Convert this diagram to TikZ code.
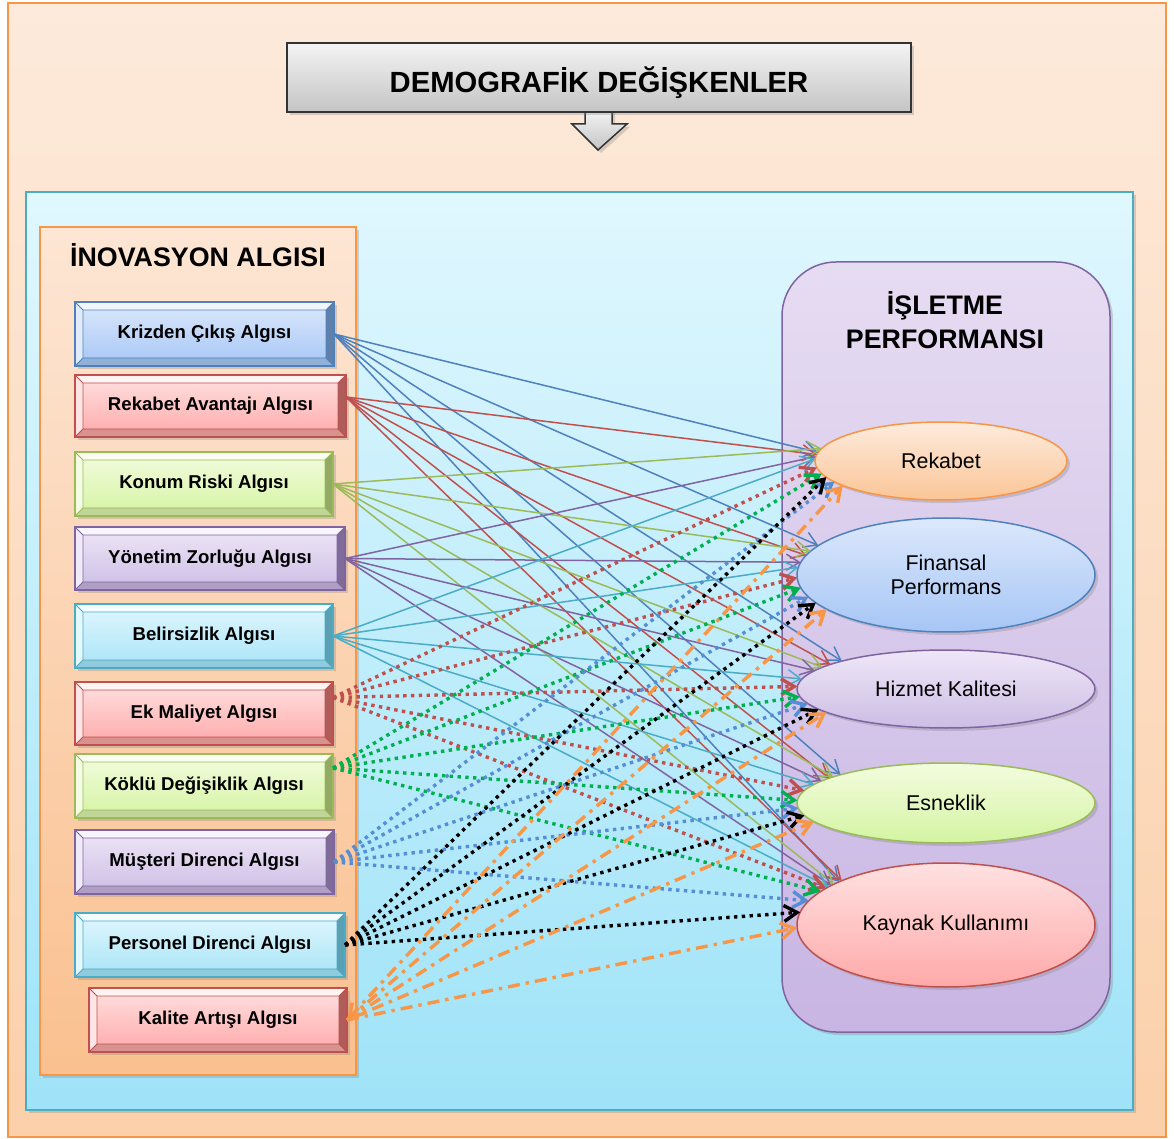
\documentclass[tikz,border=0pt]{standalone}
\usepackage{fontspec}
\setmainfont{Liberation Sans}
\usetikzlibrary{arrows.meta,shapes.geometric,shadows,calc}

% palette: border / gradient top / gradient bottom
\definecolor{blubd}{HTML}{4F81BD}\definecolor{blutop}{HTML}{DCE8FB}\definecolor{blubot}{HTML}{A6C6F6}
\definecolor{redbd}{HTML}{C0504D}\definecolor{redtop}{HTML}{FFE1E1}\definecolor{redbot}{HTML}{FFA9A9}
\definecolor{grnbd}{HTML}{9BBB59}\definecolor{grntop}{HTML}{F3FCDF}\definecolor{grnbot}{HTML}{D4F4A2}
\definecolor{purbd}{HTML}{8064A2}\definecolor{purtop}{HTML}{EEE7F7}\definecolor{purbot}{HTML}{CCBDE5}
\definecolor{aqubd}{HTML}{4BACC6}\definecolor{aqutop}{HTML}{E1F7FE}\definecolor{aqubot}{HTML}{A8E4F7}
\definecolor{orgbd}{HTML}{F79646}\definecolor{orgtop}{HTML}{FDEBDD}\definecolor{orgbot}{HTML}{FBC597}
\definecolor{outtop}{HTML}{FDEADB}\definecolor{outbot}{HTML}{FBD0AA}
\definecolor{lefttop}{HTML}{FDE6D4}\definecolor{leftbot}{HTML}{FAC08F}
\definecolor{midtop}{HTML}{E0F7FE}\definecolor{midbot}{HTML}{9FE3F8}
\definecolor{perftop}{HTML}{E6DCF2}\definecolor{perfbot}{HTML}{C8B5E3}
\definecolor{hdrtop}{HTML}{F4F4F4}\definecolor{hdrbot}{HTML}{C4C4C4}\definecolor{hdrbd}{HTML}{333333}
\definecolor{dotblue}{HTML}{558ED5}\definecolor{dotgreen}{HTML}{00B050}

% bevelled frame around a rectangular node
\newcommand\bevel[2]{%
  \fill[#2top!40!white] (#1.north west) -- (#1.north east) -- ([shift={(-4pt,-4pt)}]#1.north east) -- ([shift={(4pt,-4pt)}]#1.north west) -- cycle;
  \fill[#2top!85!white] (#1.north west) -- ([shift={(4pt,-4pt)}]#1.north west) -- ([shift={(4pt,4pt)}]#1.south west) -- (#1.south west) -- cycle;
  \fill[#2bd!62!white] (#1.south west) -- ([shift={(4pt,4pt)}]#1.south west) -- ([shift={(-4pt,4pt)}]#1.south east) -- (#1.south east) -- cycle;
  \fill[#2bd!72!gray] (#1.south east) -- ([shift={(-4pt,4pt)}]#1.south east) -- ([shift={(-4pt,-4pt)}]#1.north east) -- (#1.north east) -- cycle;
  \draw[#2bd, line width=0.4pt] ([shift={(4pt,-4pt)}]#1.north west) rectangle ([shift={(-4pt,4pt)}]#1.south east)
    (#1.north west) -- ([shift={(4pt,-4pt)}]#1.north west)
    (#1.north east) -- ([shift={(-4pt,-4pt)}]#1.north east)
    (#1.south west) -- ([shift={(4pt,4pt)}]#1.south west)
    (#1.south east) -- ([shift={(-4pt,4pt)}]#1.south east);
  \draw[#2bd, line width=1pt] (#1.north west) rectangle (#1.south east);
}
% perception box: name, x1, y1, x2, y2, palette, label
\newcommand\percbox[7]{%
  \node[lbox=#6, minimum width={(#4-#2)*0.5pt}, minimum height={(#5-#3)*0.5pt}]
    (#1) at ({(#2+#4)/2},{(#3+#5)/2}) {#7};
  \bevel{#1}{#6}%
}
% arrows from one source to the five performance ellipses
\newcommand\fan[7]{%
  \draw[#2] (#1) -- (rek.#3);
  \draw[#2] (#1) -- (fin.#4);
  \draw[#2] (#1) -- (hiz.#5);
  \draw[#2] (#1) -- (esn.#6);
  \draw[#2] (#1) -- (kay.#7);
}

\begin{document}
\begin{tikzpicture}[x=0.5pt,y=-0.5pt,
  shad/.style={drop shadow={shadow xshift=1.5pt,shadow yshift=-1.5pt,opacity=0.3}},
  lbox/.style={draw=#1bd, line width=1pt, top color=#1top, bottom color=#1bot,
    inner sep=0pt, outer sep=0pt, shad, font=\bfseries\fontsize{9.3}{11}\selectfont},
  ell/.style={ellipse, draw=#1bd, line width=0.75pt, top color=#1top, bottom color=#1bot,
    inner sep=0pt, outer sep=0pt, shad, align=center, font=\fontsize{10.7}{12}\selectfont},
  tip/.style={-{Straight Barb[length=6.5pt,width=8pt]}},
  sol/.style={draw=#1, line width=0.75pt, tip},
  dots/.style={draw=#1, line width=1.7pt, dash pattern=on 1.7pt off 2.2pt, tip},
  dashdot/.style={draw=orgbd, line width=1.7pt, dash pattern=on 6pt off 3pt on 1.7pt off 3pt, tip},
  title/.style={font=\bfseries\fontsize{13.4}{17}\selectfont, align=center}]
\useasboundingbox (0,0) rectangle (1174,1139);

% outer frame
\draw[draw=orgbd, line width=0.75pt, top color=outtop, bottom color=outbot] (8,3) rectangle (1166,1137);

% header with downward arrow
\draw[draw=hdrbd, line width=0.75pt, top color=hdrtop, bottom color=hdrbot, shad]
  (585,110) -- (612,110) -- (612,124) -- (627,124) -- (598,150) -- (572,124) -- (585,124) -- cycle;
\node[draw=hdrbd, line width=0.9pt, top color=hdrtop, bottom color=hdrbot, shad,
  minimum width=312pt, minimum height=34.5pt, inner sep=0pt, text height=14.9pt, text depth=0pt,
  font=\bfseries\fontsize{14.6}{17}\selectfont] (demo) at (599,77.5) {DEMOGRAFİK DEĞİŞKENLER};

% main area
\draw[draw=aqubd, line width=0.75pt, top color=midtop, bottom color=midbot, shad] (26,192) rectangle (1133,1110);

% innovation perception column
\draw[draw=orgbd, line width=0.75pt, top color=lefttop, bottom color=leftbot, shad] (40,227) rectangle (356,1075);
\node[title] (inov) at (198,255) {İNOVASYON ALGISI};

\percbox{kriz}{75}{302}{334}{366}{blu}{Krizden Çıkış Algısı}
\percbox{rav}{75}{375}{346}{437}{red}{Rekabet Avantajı Algısı}
\percbox{kon}{75}{452}{333}{516}{grn}{Konum Riski Algısı}
\percbox{yon}{75}{527}{345}{590}{pur}{Yönetim Zorluğu Algısı}
\percbox{bel}{75}{604}{333}{668}{aqu}{Belirsizlik Algısı}
\percbox{ek}{75}{682}{333}{745}{red}{Ek Maliyet Algısı}
\percbox{kok}{75}{754}{333}{818}{grn}{Köklü Değişiklik Algısı}
\percbox{mus}{75}{830}{334}{894}{pur}{Müşteri Direnci Algısı}
\percbox{per}{75}{913}{345}{977}{aqu}{Personel Direnci Algısı}
\percbox{kal}{89}{988}{347}{1052}{red}{Kalite Artışı Algısı}

% business performance column
\draw[draw=purbd, line width=0.75pt, top color=perftop, bottom color=perfbot, rounded corners=27pt, shad]
  (782,262) rectangle (1110,1032);
\node[title] (perf) at (945,320) {İŞLETME\\PERFORMANSI};

\node[ell=org, minimum width=126pt, minimum height=39pt] (rek) at (941,461) {Rekabet};
\node[ell=blu, minimum width=149pt, minimum height=57pt] (fin) at (946,575) {Finansal\\Performans};
\node[ell=pur, minimum width=149pt, minimum height=39pt] (hiz) at (946,689) {Hizmet Kalitesi};
\node[ell=grn, minimum width=149pt, minimum height=40pt] (esn) at (946,803) {Esneklik};
\node[ell=red, minimum width=149pt, minimum height=62pt] (kay) at (946,925) {Kaynak Kullanımı};

% solid connectors
\fan{kriz.east}{sol=blubd}{176}{167}{165}{165}{158}
\fan{[yshift=4.5pt]rav.east}{sol=redbd}{177}{172}{168}{168}{157}
\fan{kon.east}{sol=grnbd}{174}{170}{170}{167}{160}
\fan{yon.east}{sol=purbd}{178}{175}{172}{170}{161}
\fan{bel.east}{sol=aqubd}{179}{177}{176}{172}{162}

% dotted connectors
\fan{[yshift=8pt]ek.east}{dots=redbd}{183}{181}{179}{175}{163}
\fan{[yshift=9pt]kok.east}{dots=dotgreen}{186}{185}{183}{179}{165}
\fan{mus.east}{dots=dotblue}{191}{189}{186}{182}{170}
\fan{per.east}{dots=black}{188}{192}{189}{185}{175}

% dash-dotted connectors
\draw[dashdot, {Straight Barb[length=6.5pt,width=8pt]}-{Straight Barb[length=6.5pt,width=8pt]}] (kal.east) -- (rek.194);
\draw[dashdot] (kal.east) -- (fin.196);
\draw[dashdot] (kal.east) -- (hiz.191);
\draw[dashdot] (kal.east) -- (esn.188);
\draw[dashdot] (kal.east) -- (kay.181);
\end{tikzpicture}
\end{document}
